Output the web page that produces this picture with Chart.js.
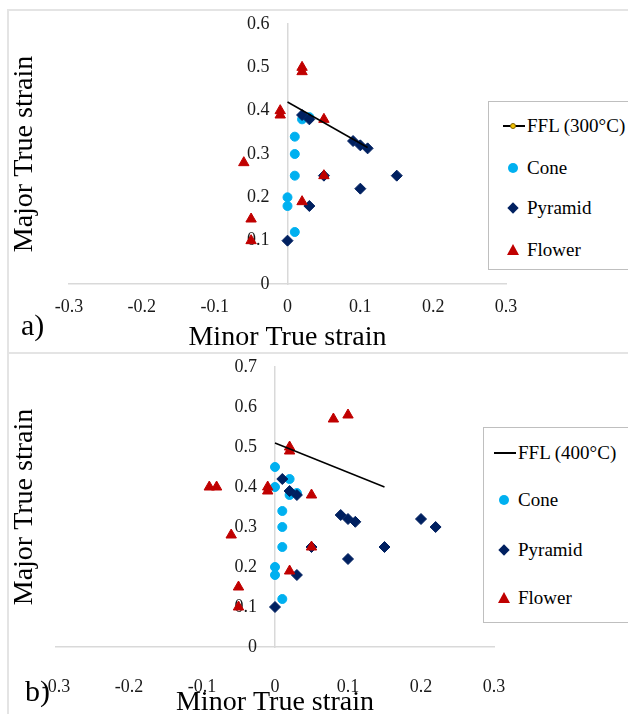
<!DOCTYPE html>
<html>
<head>
<meta charset="utf-8">
<script src="https://cdn.jsdelivr.net/npm/chart.js@4.4.0/dist/chart.umd.min.js"></script>
<style>
  body { margin: 0; width: 628px; height: 714px; background: #fff; position: relative; overflow: hidden;
         font-family: "Liberation Serif", "Times New Roman", serif; color: #000; }
  canvas { position: absolute; left: 0; }
  .frame { position: absolute; left: 7px; width: 640px; border-top: 2px solid #e4e4e4; border-left: 2px solid #e4e4e4; }
  .tag { position: absolute; font-size: 30px; line-height: 30px; }
  .legend { position: absolute; border: 1px solid #bfbfbf; background: #fff; box-sizing: border-box; }
  .item { position: absolute; left: 0; height: 20px; font-family: "Liberation Serif", serif; font-size: 19px; line-height: 20px; white-space: nowrap; color: #000; }
  .mk { position: absolute; }
</style>
</head>
<body>
<div class="frame" style="top:9px;height:343px"></div>
<div class="frame" style="top:352px;height:370px"></div>
<canvas id="c300" width="628" height="352" style="top:0"></canvas>
<canvas id="c400" width="628" height="366" style="top:352px"></canvas>
<div class="tag" style="left:21px;top:310px">a)</div>
<div class="tag" style="left:25px;top:676px">b)</div>
<div id="leg300" class="legend" style="left:488px;top:101px;width:141px;height:169px"></div>
<div id="leg400" class="legend" style="left:483px;top:427px;width:146px;height:196px"></div>

<script>
// ---- data ----
const xTicks = [-0.3, -0.2, -0.1, 0, 0.1, 0.2, 0.3];
const yTicks300 = [0, 0.1, 0.2, 0.3, 0.4, 0.5, 0.6];
const yTicks400 = [0, 0.1, 0.2, 0.3, 0.4, 0.5, 0.6, 0.7];

// a) 300°C
const ffl300X = [0, 0.11];
const ffl300Y = [0.42, 0.315];
const cone300X = [0.01, 0.01, 0.01, 0, 0, 0.01, 0.02, 0.03];
const cone300Y = [0.34, 0.30, 0.25, 0.20, 0.18, 0.12, 0.38, 0.385];
const pyr300X = [0.02, 0.03, 0.09, 0.10, 0.11, 0.15, 0.10, 0.05, 0.03, 0];
const pyr300Y = [0.39, 0.38, 0.33, 0.32, 0.313, 0.25, 0.22, 0.25, 0.18, 0.10];
const flw300X = [0.02, 0.02, -0.01, -0.01, 0.05, -0.06, 0.05, 0.02, -0.05, -0.05];
const flw300Y = [0.50, 0.49, 0.40, 0.39, 0.38, 0.28, 0.25, 0.19, 0.15, 0.10];

// b) 400°C
const ffl400X = [0, 0.15];
const ffl400Y = [0.51, 0.40];
const cone400X = [0, 0, 0.02, 0.02, 0.03, 0.01, 0.01, 0.01, 0, 0, 0.01];
const cone400Y = [0.45, 0.40, 0.42, 0.38, 0.385, 0.34, 0.30, 0.25, 0.20, 0.18, 0.12];
const pyr400X = [0.01, 0.02, 0.03, 0.09, 0.10, 0.11, 0.20, 0.22, 0.15, 0.10, 0.05, 0.03, 0];
const pyr400Y = [0.42, 0.39, 0.38, 0.33, 0.32, 0.313, 0.32, 0.30, 0.25, 0.22, 0.25, 0.18, 0.10];
const flw400X = [0.08, 0.10, 0.02, 0.02, -0.01, -0.01, -0.09, -0.08, 0.05, -0.06, 0.05, 0.02, -0.05, -0.05];
const flw400Y = [0.57, 0.58, 0.50, 0.49, 0.40, 0.39, 0.40, 0.40, 0.38, 0.28, 0.25, 0.19, 0.15, 0.10];

const seriesNames = ['Cone', 'Pyramid', 'Flower'];
const seriesColors = ['#00B0F0', '#002060', '#C00000'];
const seriesShapes = ['circle', 'rectRot', 'triangle'];

function pts(xs, ys) { return xs.map((x, i) => ({ x: x, y: ys[i] })); }
function fmt(v) { return String(Math.round(v * 10) / 10); }

const serif = '"Liberation Serif", "Times New Roman", serif';

function build(id, p) {
  const W = 628;
  const sets = [
    { label: p.fflLabel, data: pts(p.fflX, p.fflY), showLine: true, borderColor: '#000',
      borderWidth: 1.5, pointRadius: 0, order: 0 },
    { label: 'Flower', data: pts(p.flwX, p.flwY), pointStyle: 'triangle', pointRadius: 6,
      backgroundColor: seriesColors[2], borderColor: seriesColors[2], borderWidth: 1, order: 1 },
    { label: 'Pyramid', data: pts(p.pyrX, p.pyrY), pointStyle: 'rectRot', pointRadius: 5.5,
      backgroundColor: seriesColors[1], borderColor: seriesColors[1], borderWidth: 1, order: 2 },
    { label: 'Cone', data: pts(p.coneX, p.coneY), pointStyle: 'circle', pointRadius: 4.5,
      backgroundColor: seriesColors[0], borderColor: seriesColors[0], borderWidth: 1, order: 3 }
  ];
  return new Chart(document.getElementById(id), {
    type: 'scatter',
    data: { datasets: sets },
    options: {
      responsive: false,
      animation: false,
      layout: { padding: { left: 8, right: W - p.right, top: p.top, bottom: 0 } },
      plugins: { legend: { display: false }, tooltip: { enabled: false } },
      scales: {
        x: {
          type: 'linear', position: 'bottom', min: -0.3, max: 0.3,
          afterBuildTicks: s => { s.ticks = xTicks.map(v => ({ value: v })); },
          afterFit: s => { s.height = p.xH; },
          grid: { display: false, drawTicks: false },
          border: { display: true, color: '#d9d9d9', width: 1.5 },
          ticks: { padding: p.xPad, color: '#1a1a1a', font: { family: serif, size: 18 }, callback: v => fmt(v) },
          title: { display: true, text: 'Minor True strain', color: '#000',
                   font: { family: serif, size: 28, lineHeight: 1 }, padding: { top: 0, bottom: p.titlePad } }
        },
        y: {
          type: 'linear', position: { x: 0 }, min: 0, max: p.yTicks[p.yTicks.length - 1],
          afterBuildTicks: s => { s.ticks = p.yTicks.map(v => ({ value: v })); },
          afterFit: s => { s.width = 0; },
          grid: { display: false, drawTicks: false },
          border: { display: true, color: '#d9d9d9', width: 1.5 },
          ticks: { color: '#1a1a1a', font: { family: serif, size: 18 }, callback: v => fmt(v) + '\u2003' }
        },
        yTitle: {
          type: 'linear', position: 'left', min: 0, max: 1,
          afterFit: s => { s.width = p.left - 8; },
          grid: { display: false, drawTicks: false },
          border: { display: false },
          ticks: { display: false },
          title: { display: true, text: 'Major True strain', color: '#000',
                   font: { family: serif, size: 28, lineHeight: 1 }, padding: { top: 3, bottom: 0 } }
        }
      }
    }
  });
}

function legend(id, L) {
  const box = document.getElementById(id);
  const rows = [{ name: L.fflLabel, kind: 'line' }].concat(
    seriesNames.map((n, i) => ({ name: n, kind: seriesShapes[i], color: seriesColors[i] })));
  rows.forEach((r, i) => {
    const it = document.createElement('div');
    it.className = 'item';
    it.style.top = (L.rowY[i] - 10) + 'px';
    const cx = L.markX;
    let mk = '';
    if (r.kind === 'line') {
      mk = '<div class="mk" style="left:' + L.lineX0 + 'px;top:9px;width:' + (L.lineX1 - L.lineX0) + 'px;height:2px;background:#000"></div>';
      if (L.lineDot) {
        mk += '<div class="mk" style="left:' + (cx - 3) + 'px;top:7px;width:4px;height:4px;border-radius:50%;background:#f2c200;border:1px solid #7f6000"></div>';
      }
    } else if (r.kind === 'circle') {
      mk = '<div class="mk" style="left:' + (cx - 5) + 'px;top:5px;width:10px;height:10px;border-radius:50%;background:' + r.color + '"></div>';
    } else if (r.kind === 'rectRot') {
      mk = '<div class="mk" style="left:' + (cx - 4) + 'px;top:6px;width:8px;height:8px;transform:rotate(45deg);background:' + r.color + '"></div>';
    } else {
      mk = '<div class="mk" style="left:' + (cx - 6) + 'px;top:4px;width:0;height:0;border-left:6px solid transparent;border-right:6px solid transparent;border-bottom:11px solid ' + r.color + '"></div>';
    }
    it.innerHTML = mk + '<span class="mk" style="left:' + L.textX + 'px;top:0">' + r.name + '</span>';
    box.appendChild(it);
  });
}

build('c300', {
  fflLabel: 'FFL (300°C)', fflX: ffl300X, fflY: ffl300Y,
  coneX: cone300X, coneY: cone300Y, pyrX: pyr300X, pyrY: pyr300Y, flwX: flw300X, flwY: flw300Y,
  yTicks: yTicks300, left: 69, right: 506, top: 24, xH: 68, xPad: 12, titlePad: 0
});
build('c400', {
  fflLabel: 'FFL (400°C)', fflX: ffl400X, fflY: ffl400Y,
  coneX: cone400X, coneY: cone400Y, pyrX: pyr400X, pyrY: pyr400Y, flwX: flw400X, flwY: flw400Y,
  yTicks: yTicks400, left: 56, right: 494, top: 15, xH: 71, xPad: 29, titlePad: 1
});

legend('leg300', { fflLabel: 'FFL (300°C)', rowY: [24, 66, 106, 148], markX: 24, lineX0: 14, lineX1: 36, lineDot: true, textX: 38 });
legend('leg400', { fflLabel: 'FFL (400°C)', rowY: [25, 72, 122, 170], markX: 20, lineX0: 10, lineX1: 32, lineDot: false, textX: 34 });
</script>
</body>
</html>
